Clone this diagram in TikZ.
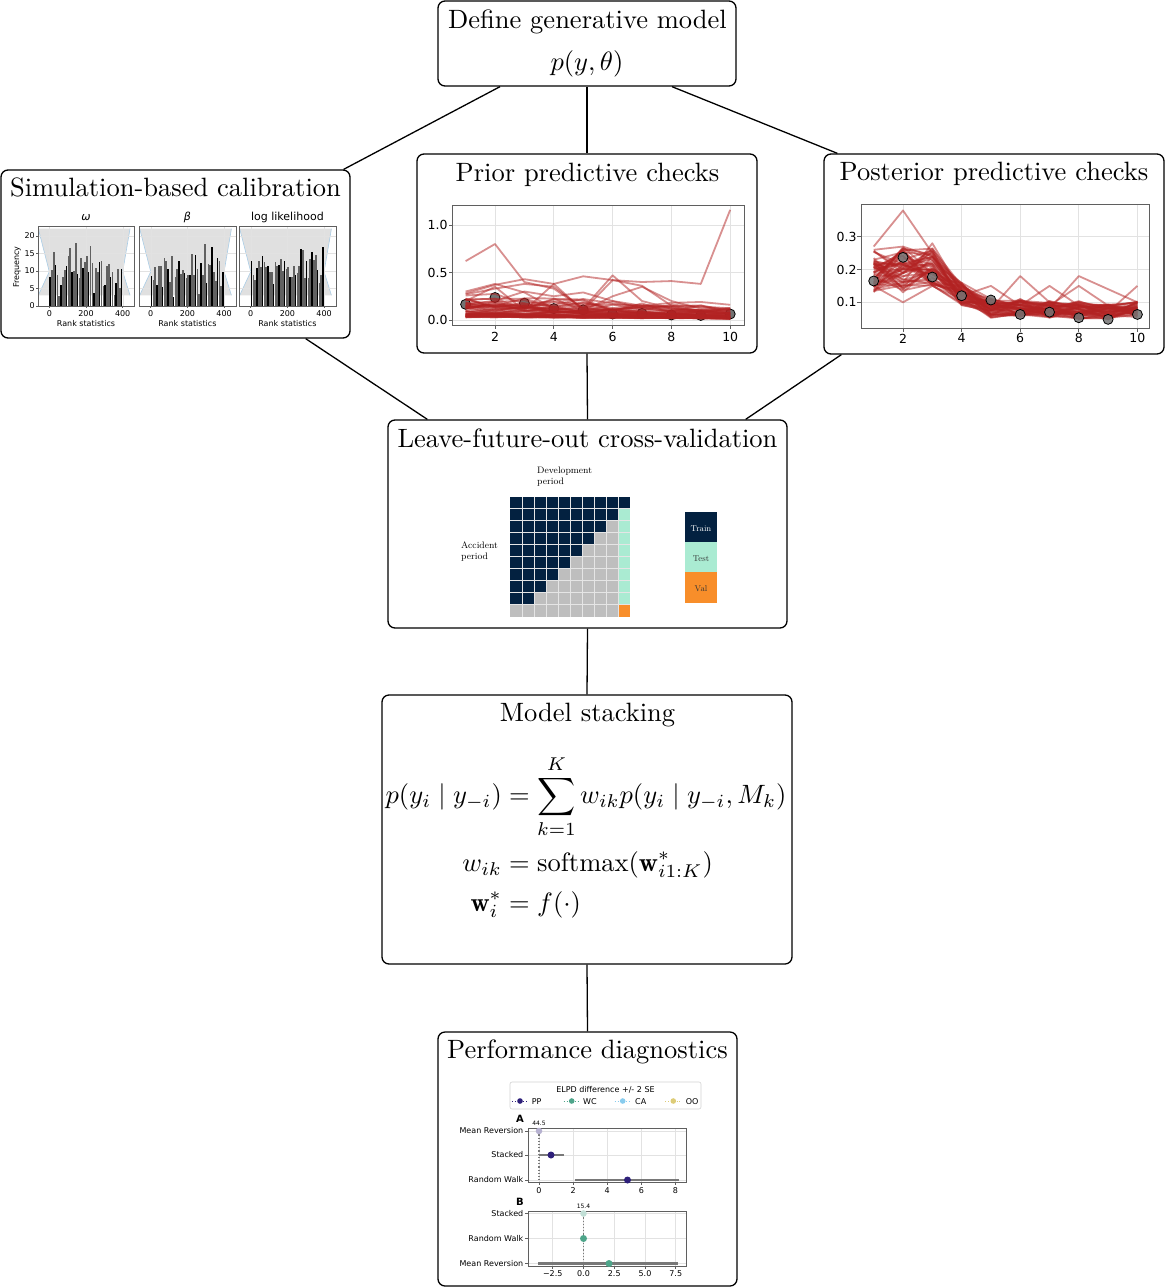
\RequirePackage{fix-cm}
\documentclass[tikz,border=0pt]{standalone}
\usepackage{amsmath}
\usepackage{fontspec}
\newfontfamily\djv{DejaVu Sans}
\usetikzlibrary{calc}
\definecolor{fb}{RGB}{178,34,34}
\definecolor{navy}{RGB}{3,33,64}
\definecolor{mint}{RGB}{170,235,210}
\definecolor{orng}{RGB}{248,142,42}
\definecolor{cellgrey}{RGB}{190,190,190}
\definecolor{ppc}{RGB}{46,32,122}
\definecolor{wcc}{RGB}{78,165,138}
\definecolor{cac}{RGB}{136,204,238}
\definecolor{ooc}{RGB}{221,204,119}
\definecolor{gridc}{RGB}{226,226,226}
\definecolor{framec}{RGB}{95,95,95}
\definecolor{bandc}{RGB}{224,224,224}
\definecolor{bandedge}{RGB}{170,205,230}
\definecolor{errc}{RGB}{120,120,120}
\newcommand\TenPt{\fontsize{10}{12}\selectfont}
\newcommand\sbcfont{\djv\fontsize{8}{9.5}\selectfont}
\newcommand\sbctfont{\djv\fontsize{11}{13}\selectfont}
\newcommand\chartfont{\djv\fontsize{12.5}{14}\selectfont}
\newcommand\perffont{\djv\fontsize{8}{9.5}\selectfont}
\newcommand\lfofont{\fontsize{9.4}{11}\selectfont}
\tikzset{
  box/.style={draw, line width=1.3pt, rounded corners=7pt, inner sep=0pt},
  ttl/.style={font=\TenPt, scale=2.65, inner sep=0pt, anchor=base},
  conn/.style={line width=1.3pt},
  redline/.style={draw=fb, line width=1.8pt, opacity=0.5, line join=round},
  obs/.style={fill=black!55, draw=black, line width=0.8pt},
  lbl/.style={inner sep=0pt},
}
\begin{document}
\begin{tikzpicture}[x=1pt,y=-1pt]
\useasboundingbox (0,0) rectangle (1165,1288);

% ---------------- boxes ----------------
\node[box, minimum width=298pt, minimum height=85pt] (def) at (587,43.5) {};
\node[box, minimum width=349pt, minimum height=168pt] (sbc) at (175.5,254) {};
\node[box, minimum width=340pt, minimum height=199pt] (prior) at (587,253.5) {};
\node[box, minimum width=340pt, minimum height=200pt] (post) at (994,254) {};
\node[box, minimum width=399pt, minimum height=208pt] (lfo) at (587.5,524) {};
\node[box, minimum width=410pt, minimum height=269pt] (stack) at (587,829.5) {};
\node[box, minimum width=299pt, minimum height=254pt] (perf) at (587.5,1159) {};

% ---------------- connectors ----------------
\draw[conn] ($(def.south)+(-87,0)$) -- ($(sbc.north east)+(-7,0)$);
\draw[conn] (def.south) -- (prior.north);
\draw[conn] ($(def.south)+(85,0)$) -- ($(post.north west)+(14,0)$);
\draw[conn] ($(sbc.south east)+(-45,0)$) -- ($(lfo.north west)+(40,0)$);
\draw[conn] (prior.south) -- (lfo.north);
\draw[conn] ($(post.south west)+(18,0)$) -- ($(lfo.north east)+(-42,0)$);
\draw[conn] (lfo.south) -- (stack.north);
\draw[conn] (stack.south) -- (perf.north);

% ---------------- titles ----------------
\node[ttl] (deft) at (587.5,28) {Define generative model};
\node[ttl] (defm) at (587,70.6) {$p(y,\theta)$};
\node[ttl] (sbct) at (175.5,196.5) {Simulation-based calibration};
\node[ttl] (priort) at (587.5,181) {Prior predictive checks};
\node[ttl] (postt) at (994,180.5) {Posterior predictive checks};
\node[ttl] (lfot) at (587.5,447) {Leave-future-out cross-validation};
\node[ttl] (stackt) at (587.5,721) {Model stacking};
\node[ttl] (perft) at (587.5,1058) {Performance diagnostics};

% ---------------- model stacking equations ----------------
\node[font=\TenPt, scale=2.65, inner sep=0pt] (eq) at (586,838) {$\begin{aligned}
 p(y_i \mid y_{-i}) &= \sum_{k=1}^{K} w_{ik} p(y_i \mid y_{-i}, M_k)\\
 w_{ik} &= \mathrm{softmax}(\mathbf{w}^*_{i1:K})\\
 \mathbf{w}^*_i &= f(\cdot)
\end{aligned}$};

% ---------------- SBC panel ----------------
\node[rotate=90, font=\sbcfont, lbl] (freq) at (17,267) {Frequency};
\pgfmathsetseed{7}
\foreach \sp/\xo/\ttlx in {1/49.3/{\itshape ω}, 2/150.7/{\itshape β}, 3/250.7/{log likelihood}} {
  \begin{scope}[shift={(\xo,306)}, x=0.1835pt, y=3.5pt]
    \fill[bandc] (-60,22.1) -- (440,22.1) -- (400,9.8) -- (440,3.06) -- (-60,3.06) -- (0,9.8) -- cycle;
    \draw[bandedge, line width=0.6pt] (-60,22.1) -- (0,9.8) -- (-60,3.06);
    \draw[bandedge, line width=0.6pt] (440,22.1) -- (400,9.8) -- (440,3.06);
    \foreach \t in {0,200,400} \draw[gridc, line width=0.4pt] (\t,0) -- (\t,22.7);
    \foreach \v in {5,10,15,20} \draw[gridc, line width=0.4pt] (-60,\v) -- (465,\v);
    \foreach \i in {0,...,39} {
      \pgfmathsetmacro\h{max(2.5,10.5+7*(rnd+rnd+rnd-1.5))}
      \pgfmathtruncatemacro\dk{mod(\i,3)}
      \ifnum\dk=0
        \fill[black] (\i*10,0) rectangle ++(8,\h);
      \else
        \fill[black!62] (\i*10,0) rectangle ++(9,\h);
      \fi
    }
    \draw[framec, line width=0.7pt] (-60,0) rectangle (465,22.7);
    \foreach \t in {0,200,400} {
      \draw[framec, line width=0.5pt] (\t,0) -- (\t,-0.6);
      \node[font=\sbcfont, lbl] (sbcx\sp\t) at (\t,-2.1) {\t};
    }
    \node[font=\sbcfont, lbl] (sbcr\sp) at (200,-5) {Rank statistics};
    \node[font=\sbctfont, lbl] (sbcp\sp) at (200,25.3) {\ttlx};
    \ifnum\sp=1
      \foreach \v in {0,5,10,15,20} {
        \draw[framec, line width=0.5pt] (-60,\v) -- (-70,\v);
        \node[font=\sbcfont, lbl, anchor=east] (sbcy\v) at (-78,\v) {\v};
      }
    \fi
  \end{scope}
}

% ---------------- Prior predictive chart ----------------
\begin{scope}[shift={(436.2,320)}, x=29.4pt, y=95pt]
  \foreach \t in {2,4,6,8,10} \draw[gridc, line width=0.7pt] (\t,-0.053) -- (\t,1.21);
  \foreach \v in {0,0.5,1} \draw[gridc, line width=0.7pt] (0.537,\v) -- (10.47,\v);
  \foreach \x/\v in {1/0.165,2/0.237,3/0.177,4/0.12,5/0.107,6/0.063,7/0.07,8/0.053,9/0.048,10/0.063}
    \draw[obs] (\x,\v) circle[radius=5pt];
  \pgfmathsetseed{11}
  \foreach \k in {1,...,50} {
    \pgfmathsetmacro\L{0.04+0.2*rnd^2}
    \foreach \x in {1,...,10} {
      \pgfmathsetmacro\yy{max(0.012,\L*(1.12-0.065*\x)*(0.6+0.8*rnd))}
      \coordinate (pr\x) at (\x,\yy);
    }
    \draw[redline] (pr1) \foreach \x in {2,...,10} { -- (pr\x) };
  }
  \draw[redline] plot coordinates {(1,0.62)(2,0.8)(3,0.4)(4,0.33)(5,0.12)(6,0.1)(7,0.08)(8,0.06)(9,0.05)(10,0.04)};
  \draw[redline] plot coordinates {(1,0.28)(2,0.37)(3,0.43)(4,0.38)(5,0.46)(6,0.42)(7,0.40)(8,0.41)(9,0.38)(10,1.16)};
  \draw[redline] plot coordinates {(1,0.27)(2,0.33)(3,0.38)(4,0.35)(5,0.12)(6,0.47)(7,0.2)(8,0.12)(9,0.1)(10,0.08)};
  \draw[redline] plot coordinates {(1,0.2)(2,0.35)(3,0.1)(4,0.38)(5,0.1)(6,0.25)(7,0.35)(8,0.2)(9,0.12)(10,0.1)};
  \draw[redline] plot coordinates {(1,0.1)(2,0.2)(3,0.3)(4,0.25)(5,0.29)(6,0.2)(7,0.15)(8,0.18)(9,0.19)(10,0.16)};
  \draw[redline] plot coordinates {(1,0.3)(2,0.38)(3,0.29)(4,0.12)(5,0.1)(6,0.42)(7,0.36)(8,0.15)(9,0.1)(10,0.09)};
  \draw[framec, line width=0.9pt] (0.537,-0.053) rectangle (10.47,1.21);
  \foreach \t in {2,4,6,8,10} {
    \draw[framec, line width=0.7pt] (\t,-0.053) -- (\t,-0.09);
    \node[font=\chartfont, lbl] (prx\t) at (\t,-0.18) {\t};
  }
  \foreach \v/\s in {0/0.0,0.5/0.5,1/1.0} {
    \draw[framec, line width=0.7pt] (0.537,\v) -- (0.42,\v);
    \node[font=\chartfont, lbl, anchor=east] (pry\s) at (0.39,\v) {\s};
  }
\end{scope}

% ---------------- Posterior predictive chart ----------------
\begin{scope}[shift={(844.4,335.1)}, x=29.3pt, y=328pt]
  \foreach \t in {2,4,6,8,10} \draw[gridc, line width=0.7pt] (\t,0.0216) -- (\t,0.397);
  \foreach \v in {0.1,0.2,0.3} \draw[gridc, line width=0.7pt] (0.567,\v) -- (10.4,\v);
  \pgfmathsetseed{5}
  \foreach \k in {1,...,45} {
    \foreach \x/\m/\s in {1/0.195/0.065, 2/0.2/0.07, 3/0.205/0.06, 4/0.125/0.035, 5/0.082/0.03, 6/0.082/0.028, 7/0.08/0.028, 8/0.076/0.028, 9/0.072/0.025, 10/0.078/0.025} {
      \pgfmathsetmacro\yy{\m+\s*(2*rnd-1)}
      \coordinate (po\x) at (\x,\yy);
    }
    \draw[redline] (po1) \foreach \x in {2,...,10} { -- (po\x) };
  }
  \draw[redline] plot coordinates {(1,0.27)(2,0.38)(3,0.25)(4,0.15)(5,0.1)(6,0.09)(7,0.08)(8,0.08)(9,0.07)(10,0.08)};
  \draw[redline] plot coordinates {(1,0.15)(2,0.1)(3,0.15)(4,0.11)(5,0.08)(6,0.07)(7,0.07)(8,0.06)(9,0.06)(10,0.07)};
  \draw[redline] plot coordinates {(1,0.2)(2,0.22)(3,0.21)(4,0.12)(5,0.08)(6,0.18)(7,0.1)(8,0.09)(9,0.08)(10,0.09)};
  \draw[redline] plot coordinates {(1,0.17)(2,0.2)(3,0.2)(4,0.13)(5,0.09)(6,0.08)(7,0.08)(8,0.18)(9,0.14)(10,0.1)};
  \draw[redline] plot coordinates {(1,0.22)(2,0.18)(3,0.19)(4,0.12)(5,0.15)(6,0.09)(7,0.15)(8,0.09)(9,0.07)(10,0.15)};
  \draw[redline] plot coordinates {(1,0.26)(2,0.27)(3,0.24)(4,0.14)(5,0.08)(6,0.1)(7,0.09)(8,0.15)(9,0.09)(10,0.1)};
  \draw[redline] plot coordinates {(1,0.14)(2,0.16)(3,0.28)(4,0.13)(5,0.06)(6,0.07)(7,0.06)(8,0.05)(9,0.06)(10,0.06)};
  \foreach \x/\v in {1/0.165,2/0.237,3/0.177,4/0.12,5/0.107,6/0.063,7/0.07,8/0.053,9/0.048,10/0.063}
    \draw[obs, fill opacity=0.85] (\x,\v) circle[radius=5pt];
  \draw[framec, line width=0.9pt] (0.567,0.0216) rectangle (10.4,0.397);
  \foreach \t in {2,4,6,8,10} {
    \draw[framec, line width=0.7pt] (\t,0.0216) -- (\t,0.01);
    \node[font=\chartfont, lbl] (pox\t) at (\t,-0.01) {\t};
  }
  \foreach \v in {0.1,0.2,0.3} {
    \draw[framec, line width=0.7pt] (0.567,\v) -- (0.44,\v);
    \node[font=\chartfont, lbl, anchor=east] (poy\v) at (0.42,\v) {\v};
  }
\end{scope}

% ---------------- LFO grid ----------------
\begin{scope}[shift={(510,496.7)}, x=12pt, y=-12pt]
  \foreach \r in {0,...,9} {
    \foreach \c in {0,...,9} {
      \pgfmathtruncatemacro\code{(\r==0) ? 0 : ((\r==9) ? ((\c==9) ? 3 : 2) : ((\c==9) ? 1 : ((\c<=9-\r) ? 0 : 2)))}
      \ifcase\code \def\cc{navy}\or\def\cc{mint}\or\def\cc{cellgrey}\or\def\cc{orng}\fi
      \fill[\cc] (\c,\r) rectangle ++(1,1);
    }
  }
  \foreach \i in {1,...,9} {
    \draw[white!80!gray, line width=0.7pt] (\i,0) -- (\i,10);
    \draw[white!80!gray, line width=0.7pt] (0,\i) -- (10,\i);
  }
\end{scope}
\node[font=\lfofont, align=left, anchor=north west, inner sep=0pt] (devp) at (537,467) {Development\\period};
\node[font=\lfofont, align=left, anchor=north west, inner sep=0pt] (accp) at (461,542) {Accident\\period};
\fill[navy] (685,512) rectangle (717,542);
\fill[mint] (685,542) rectangle (717,572);
\fill[orng] (685,572) rectangle (717,603);
\node[font=\fontsize{8.5}{10}\selectfont, text=white, lbl] (ltrain) at (701,529) {Train};
\node[font=\fontsize{8.5}{10}\selectfont, text=black!80, lbl] (ltest) at (701,559) {Test};
\node[font=\fontsize{8.5}{10}\selectfont, text=black!80, lbl] (lval) at (701,589) {Val};

% ---------------- Performance diagnostics ----------------
\draw[gray!35, rounded corners=2pt, line width=0.6pt, fill=white] (510,1082) rectangle (701,1109);
\node[font=\perffont, lbl] (legt) at (605.5,1090) {ELPD difference +/- 2 SE};
\foreach \n/\mx/\lx/\col in {PP/520/531.7/ppc, WC/571.7/583/wcc, CA/622.7/635/cac, OO/673.3/685.7/ooc} {
  \draw[\col, line width=0.8pt, dotted] (\mx-8,1101) -- (\mx+8,1101);
  \fill[\col] (\mx,1101) circle[radius=2.8pt];
  \node[font=\perffont, anchor=west, lbl] (leg\n) at (\lx,1101.5) {\n};
}
% panel A
\node[font=\djv\bfseries\fontsize{10}{11}\selectfont, lbl] (pA) at (520,1119) {A};
\foreach \v in {0,2,4,6,8} {
  \pgfmathsetmacro\px{539+17.05*\v}
  \draw[gridc, line width=0.6pt] (\px,1128) -- (\px,1182);
  \draw[framec, line width=0.6pt] (\px,1182) -- (\px,1185);
  \node[font=\perffont, lbl] (pax\v) at (\px,1190.5) {\v};
}
\foreach \y/\t in {1131/Mean Reversion, 1155/Stacked, 1180/Random Walk} {
  \draw[gridc, line width=0.6pt] (528,\y) -- (686,\y);
  \draw[framec, line width=0.6pt] (528,\y) -- (525,\y);
  \node[font=\perffont, anchor=east, lbl] (pay\y) at (523.5,\y) {\t};
}
\draw[framec, line width=0.8pt] (528,1128) rectangle (686,1182);
\draw[errc, line width=1.2pt, dotted] (539,1128) -- (539,1182);
\fill[ppc!35] (539,1131) circle[radius=3.3pt];
\node[font=\djv\fontsize{6}{7}\selectfont, lbl] (pa445) at (539,1123) {44.5};
\draw[errc, line width=2.4pt] (539,1155) -- (563.5,1155);
\fill[ppc] (551,1155) circle[radius=3.5pt];
\draw[errc, line width=2.4pt] (574.5,1180) -- (678.5,1180);
\fill[ppc] (627.5,1180) circle[radius=3.5pt];
% panel B
\node[font=\djv\bfseries\fontsize{10}{11}\selectfont, lbl] (pB) at (520,1202) {B};
\foreach \v/\s in {-2.5/−2.5, 0/0.0, 2.5/2.5, 5/5.0, 7.5/7.5} {
  \pgfmathsetmacro\px{583.5+12.3*\v}
  \draw[gridc, line width=0.6pt] (\px,1211) -- (\px,1266);
  \draw[framec, line width=0.6pt] (\px,1266) -- (\px,1269);
  \node[font=\perffont, lbl] (pbx\px) at (\px,1274) {\s};
}
\foreach \y/\t in {1213.5/Stacked, 1238.5/Random Walk, 1263.5/Mean Reversion} {
  \draw[gridc, line width=0.6pt] (528,\y) -- (686,\y);
  \draw[framec, line width=0.6pt] (528,\y) -- (525,\y);
  \node[font=\perffont, anchor=east, lbl] (pby\y) at (523.5,\y) {\t};
}
\draw[framec, line width=0.8pt] (528,1211) rectangle (686,1266);
\draw[errc, line width=1.2pt, dotted] (583.5,1211) -- (583.5,1266);
\fill[wcc!35] (583.5,1213.5) circle[radius=3.3pt];
\node[font=\djv\fontsize{6}{7}\selectfont, lbl] (pb154) at (583.5,1206) {15.4};
\fill[wcc] (583.5,1238.5) circle[radius=3.5pt];
\draw[errc, line width=2.4pt] (538,1263.5) -- (678,1263.5);
\fill[wcc] (609,1263.5) circle[radius=3.5pt];

\end{tikzpicture}
\end{document}
